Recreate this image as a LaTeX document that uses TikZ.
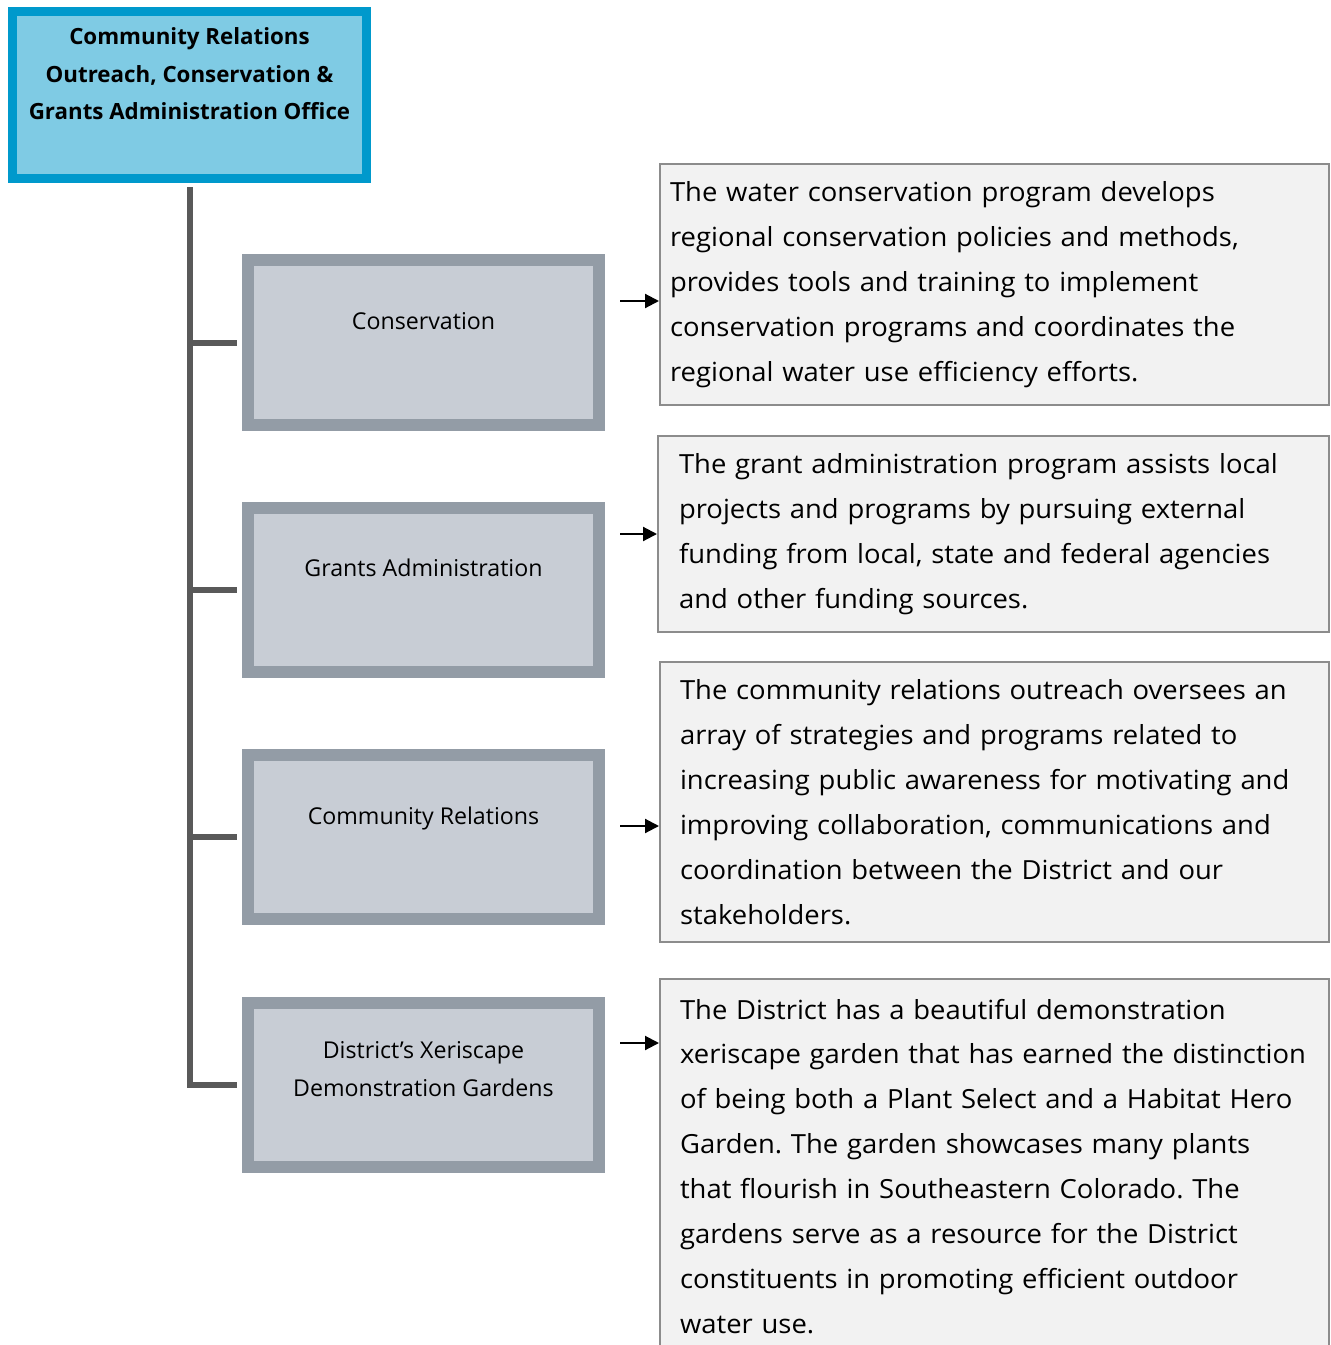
\documentclass[tikz,border=0pt]{standalone}
\usepackage{fontspec}
\setmainfont{Open Sans}
\newfontfamily\notefont{Open Sans}[FakeStretch=1.04]
\usetikzlibrary{arrows.meta}
\definecolor{officefill}{HTML}{7FCBE4}
\definecolor{officeline}{HTML}{0099CC}
\definecolor{unitfill}{HTML}{C8CDD5}
\definecolor{unitline}{HTML}{939CA6}
\definecolor{notefill}{HTML}{F2F2F2}
\definecolor{noteline}{HTML}{8C8C8C}
\definecolor{spinegray}{HTML}{595959}
\frenchspacing

\begin{document}
\begin{tikzpicture}[x = 0.02cm, y = -0.02cm,
    officebox/.style = {draw = officeline, fill = officefill, line width = 0.18cm, minimum width = 7.08cm, minimum height = 3.34cm},
    officetext/.style = {align = center, font = \bfseries\fontsize{12.7}{21.3}\selectfont},
    unitbox/.style = {draw = unitline, fill = unitfill, line width = 0.24cm, minimum width = 7.02cm, minimum height = 3.3cm},
    unittext/.style = {align = center, font = \fontsize{13.2}{21.6}\selectfont},
    note/.style = {draw = noteline, fill = notefill, line width = 1.2pt, anchor = north west, align = left, inner ysep = 0pt, font = \notefont\fontsize{15}{25.6}\selectfont},
    spine/.style = {draw = spinegray, line width = 0.12cm},
    arrow/.style = {-{Triangle[length = 0.28cm, width = 0.28cm]}, line width = 1.2pt}]
    \clip (0, 0) rectangle (1330, 1345);
    \node[officebox] (office) at (189.5, 95) {};
    \node[officetext] (office text) at (189.5, 74) {Community Relations \\ Outreach, Conservation \& \\ Grants Administration Office};
    \node[unitbox] (conservation) at (423.5, 342.5) {};
    \node[unittext] (conservation text) at (423.5, 321) {Conservation};
    \node[unitbox] (grants) at (423.5, 590) {};
    \node[unittext] (grants text) at (423.5, 568) {Grants Administration};
    \node[unitbox] (community) at (423.5, 837) {};
    \node[unittext] (community text) at (423.5, 818) {Community Relations};
    \node[unitbox] (xeriscape) at (423.5, 1085) {};
    \node[unittext] (xeriscape text) at (423.5, 1069) {District’s Xeriscape \\ Demonstration Gardens};
    \draw[spine, shorten <= 0.09cm, shorten >= 0.1cm] (office.south) -- (office.south |- xeriscape.west) -- (xeriscape.west);
    \draw[spine, shorten >= 0.1cm] (office.south |- conservation.west) -- (conservation.west);
    \draw[spine, shorten >= 0.1cm] (office.south |- grants.west) -- (grants.west);
    \draw[spine, shorten >= 0.1cm] (office.south |- community.west) -- (community.west);
    \node[note, inner xsep = 0.2cm, text width = 12.98cm, minimum height = 4.82cm] (conservation note) at (659, 163) {The water conservation program develops \\ regional conservation policies and methods, \\ provides tools and training to implement \\ conservation programs and coordinates the \\ regional water use efficiency efforts.};
    \node[note, inner xsep = 0.42cm, text width = 12.58cm, minimum height = 3.92cm] (grants note) at (657, 435) {The grant administration program assists local \\ projects and programs by pursuing external \\ funding from local, state and federal agencies \\ and other funding sources.};
    \node[note, inner xsep = 0.4cm, text width = 12.58cm, minimum height = 5.6cm] (community note) at (659, 661) {The community relations outreach oversees an \\ array of strategies and programs related to \\ increasing public awareness for motivating and \\ improving collaboration, communications and \\ coordination between the District and our \\ stakeholders.};
    \node[note, inner xsep = 0.4cm, text width = 12.58cm, minimum height = 7.5cm] (xeriscape note) at (659, 978) {The District has a beautiful demonstration \\ xeriscape garden that has earned the distinction \\ of being both a Plant Select and a Habitat Hero \\ Garden. The garden showcases many plants \\ that flourish in Southeastern Colorado. The \\ gardens serve as a resource for the District \\ constituents in promoting efficient outdoor \\ water use.};
    \coordinate (conservation arrow) at (620, 301);
    \coordinate (grants arrow) at (620, 534);
    \coordinate (community arrow) at (620, 826);
    \coordinate (xeriscape arrow) at (620, 1043);
    \draw[arrow] (conservation arrow) -- (conservation arrow -| conservation note.west);
    \draw[arrow] (grants arrow) -- (grants arrow -| grants note.west);
    \draw[arrow] (community arrow) -- (community arrow -| community note.west);
    \draw[arrow] (xeriscape arrow) -- (xeriscape arrow -| xeriscape note.west);
\end{tikzpicture}
\end{document}
